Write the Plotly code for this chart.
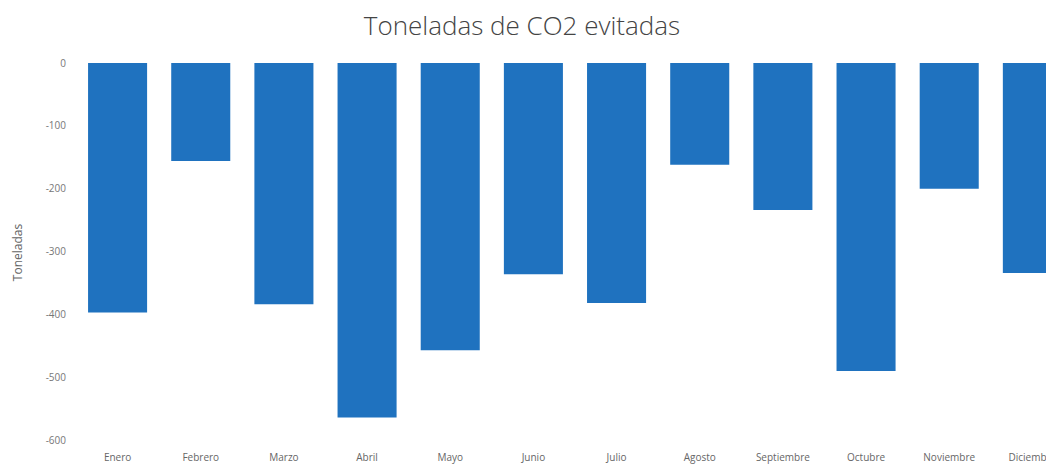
import plotly.graph_objects as go

meses = ["Enero", "Febrero", "Marzo", "Abril", "Mayo", "Junio", "Julio",
         "Agosto", "Septiembre", "Octubre", "Noviembre", "Diciembre"]
toneladas = [-397, -156, -384, -564, -457, -336, -382, -162, -234, -490, -200, -334]
y_ticks = [0, -100, -200, -300, -400, -500, -600]

fig = go.Figure(go.Bar(x=meses, y=toneladas, marker_color="#1f72bf",
                       marker_line_width=0))
fig.update_layout(
    width=1046, height=456,
    margin=dict(l=68, r=0, t=55, b=22, autoexpand=False),
    paper_bgcolor="white", plot_bgcolor="white",
    bargap=0.29,
    title=dict(text="Toneladas de CO2 evitadas", x=0.4914, xanchor="center",
               y=0.96, yanchor="middle", automargin=False,
               font=dict(family="Open Sans", size=26, color="#444", weight=300)),
    showlegend=False,
)
fig.update_xaxes(range=[-0.5, 11.26], showgrid=False, showline=False,
                 ticks="", automargin=False,
                 tickfont=dict(family="Open Sans", size=10, color="#666"),
                 ticklabelstandoff=8)
fig.update_yaxes(range=[-603, 0], tickvals=y_ticks,
                 ticktext=[str(v) for v in y_ticks], automargin=False,
                 showgrid=False, zeroline=False, showline=False, ticks="",
                 tickfont=dict(family="Open Sans", size=10, color="#777"),
                 ticklabelstandoff=9,
                 title=dict(text="Toneladas", standoff=20,
                            font=dict(family="Open Sans", size=12, color="#666")))
fig.write_html("out.html")
